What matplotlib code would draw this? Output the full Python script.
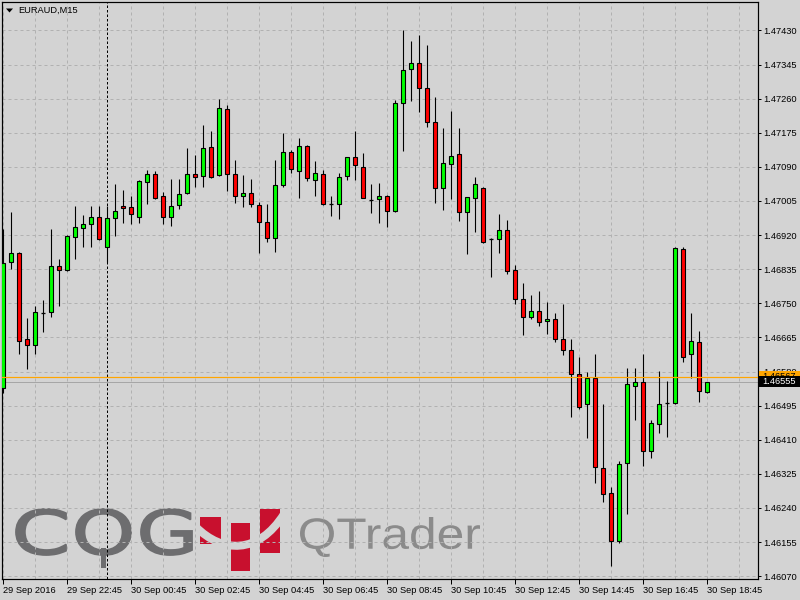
import numpy as np
import matplotlib
matplotlib.use('Agg')
import matplotlib.pyplot as plt
from matplotlib.patches import Rectangle, PathPatch, Polygon
from matplotlib.path import Path
from matplotlib.textpath import TextPath
from matplotlib.font_manager import FontProperties
from matplotlib.transforms import Affine2D, blended_transform_factory

plt.rcParams['font.family'] = ['Liberation Sans', 'DejaVu Sans']

# EURAUD M15, 29 Sep 20:45 .. 30 Sep 18:45
opens = [1.46539, 1.46853, 1.46875, 1.46661, 1.46646, 1.46726, 1.46728, 1.46843, 1.46833, 1.46915,
         1.46938, 1.46948, 1.46965, 1.46890, 1.46963, 1.46993, 1.46990, 1.46965, 1.47052, 1.47072,
         1.47018, 1.46965, 1.46995, 1.47025, 1.47072, 1.47067, 1.47140, 1.47070, 1.47234, 1.47072,
         1.47018, 1.47025, 1.46995, 1.46953, 1.46913, 1.47045, 1.47127, 1.47080, 1.47142, 1.47057,
         1.47072, 1.46998, 1.46998, 1.47067, 1.47115, 1.47090, 1.47007, 1.47010, 1.47018, 1.46980,
         1.47249, 1.47334, 1.47349, 1.47287, 1.47202, 1.47037, 1.47097, 1.47122, 1.46978, 1.47012,
         1.47037, 1.46910, 1.46910, 1.46933, 1.46833, 1.46761, 1.46716, 1.46731, 1.46706, 1.46711,
         1.46661, 1.46634, 1.46574, 1.46499, 1.46564, 1.46339, 1.46277, 1.46157, 1.46352, 1.46544,
         1.46554, 1.46382, 1.46449, 1.46501, 1.46501, 1.46885, 1.46624, 1.46653, 1.46529]
highs = [1.46935, 1.46978, 1.46877, 1.46713, 1.46743, 1.46758, 1.46935, 1.46860, 1.46920, 1.46993,
         1.46970, 1.46993, 1.46993, 1.46993, 1.47047, 1.47032, 1.47018, 1.47057, 1.47082, 1.47080,
         1.47027, 1.47060, 1.47060, 1.47137, 1.47120, 1.47194, 1.47180, 1.47259, 1.47244, 1.47107,
         1.47070, 1.47060, 1.47003, 1.46998, 1.47107, 1.47175, 1.47132, 1.47162, 1.47145, 1.47105,
         1.47082, 1.47018, 1.47075, 1.47115, 1.47180, 1.47125, 1.47047, 1.47050, 1.47020, 1.47257,
         1.47431, 1.47404, 1.47419, 1.47394, 1.47264, 1.47187, 1.47229, 1.47187, 1.47015, 1.47065,
         1.47039, 1.46912, 1.46973, 1.46958, 1.46845, 1.46801, 1.46771, 1.46781, 1.46753, 1.46726,
         1.46748, 1.46661, 1.46616, 1.46579, 1.46624, 1.46499, 1.46292, 1.46357, 1.46589, 1.46589,
         1.46624, 1.46459, 1.46581, 1.46556, 1.46890, 1.46890, 1.46726, 1.46681, 1.46554]
lows = [1.46526, 1.46835, 1.46624, 1.46586, 1.46624, 1.46678, 1.46716, 1.46743, 1.46830, 1.46860,
        1.46890, 1.46890, 1.46908, 1.46853, 1.46918, 1.46950, 1.46948, 1.46950, 1.46998, 1.47010,
        1.46948, 1.46943, 1.46985, 1.47022, 1.47040, 1.47040, 1.47062, 1.47068, 1.47030, 1.47000,
        1.46990, 1.46990, 1.46875, 1.46903, 1.46878, 1.47040, 1.47075, 1.47012, 1.47055, 1.47018,
        1.46995, 1.46968, 1.46960, 1.47057, 1.47057, 1.47012, 1.46975, 1.46950, 1.46940, 1.46978,
        1.47130, 1.47254, 1.47227, 1.47190, 1.47000, 1.46983, 1.47010, 1.46955, 1.46873, 1.46928,
        1.46900, 1.46816, 1.46875, 1.46823, 1.46748, 1.46671, 1.46711, 1.46693, 1.46673, 1.46653,
        1.46621, 1.46467, 1.46487, 1.46414, 1.46302, 1.46255, 1.46095, 1.46152, 1.46225, 1.46459,
        1.46344, 1.46364, 1.46427, 1.46417, 1.46499, 1.46604, 1.46564, 1.46504, 1.46526]
closes = [1.46850, 1.46875, 1.46656, 1.46646, 1.46728, 1.46726, 1.46843, 1.46833, 1.46918, 1.46940,
          1.46948, 1.46965, 1.46910, 1.46963, 1.46980, 1.46988, 1.46973, 1.47055, 1.47072, 1.47012,
          1.46965, 1.46993, 1.47022, 1.47072, 1.47065, 1.47137, 1.47065, 1.47237, 1.47072, 1.47018,
          1.47025, 1.46998, 1.46953, 1.46913, 1.47045, 1.47127, 1.47085, 1.47142, 1.47062, 1.47075,
          1.46998, 1.46998, 1.47065, 1.47115, 1.47095, 1.47012, 1.47007, 1.47018, 1.46980, 1.47249,
          1.47332, 1.47349, 1.47287, 1.47202, 1.47037, 1.47100, 1.47117, 1.46978, 1.47015, 1.47047,
          1.46903, 1.46910, 1.46933, 1.46830, 1.46761, 1.46716, 1.46731, 1.46703, 1.46711, 1.46661,
          1.46634, 1.46574, 1.46491, 1.46564, 1.46342, 1.46275, 1.46157, 1.46349, 1.46549, 1.46554,
          1.46382, 1.46452, 1.46499, 1.46501, 1.46888, 1.46616, 1.46656, 1.46531, 1.46555]

time_labels = ['29 Sep 2016', '29 Sep 22:45', '30 Sep 00:45', '30 Sep 02:45', '30 Sep 04:45',
               '30 Sep 06:45', '30 Sep 08:45', '30 Sep 10:45', '30 Sep 12:45', '30 Sep 14:45',
               '30 Sep 16:45', '30 Sep 18:45']
price_levels = [1.46070, 1.46155, 1.46240, 1.46325, 1.46410, 1.46495, 1.46580, 1.46665, 1.46750,
                1.46835, 1.46920, 1.47005, 1.47090, 1.47175, 1.47260, 1.47345, 1.47430]
bid_price = 1.46555
hline_price = 1.46567
day_break = 13      # bar index of 30 Sep 00:00
bars_per_label = 8
bars_per_grid = 4

BG = '#d3d3d3'
GRID = '#b1b1b1'
PX = 0.72  # one pixel in points at 100 dpi

fig = plt.figure(figsize=(8, 6), dpi=100, facecolor=BG)

# watermark layer (pixel coordinates, below the chart)
wm = fig.add_axes([0, 0, 1, 1], zorder=0)
wm.set_xlim(0, 800)
wm.set_ylim(600, 0)
wm.axis('off')
wm.patch.set_alpha(0)


def fit_text(axl, s, x0, x1, ytop, ybot, color, family, weight='normal', stroke=0):
    tp = TextPath((0, 0), s, size=100, prop=FontProperties(family=family, weight=weight))
    bb = tp.get_extents()
    tr = Affine2D().translate(-bb.x0, -bb.y1).scale((x1 - x0) / bb.width,
                                                      -(ybot - ytop) / bb.height).translate(x0, ytop)
    axl.add_patch(PathPatch(tr.transform_path(tp), fc=color,
                            ec=color if stroke else 'none', lw=stroke))


logo_grey = '#6d6d6f'
fit_text(wm, 'C', 16, 66, 509, 555, logo_grey, 'DejaVu Sans', stroke=1.3)
fit_text(wm, 'O', 76, 131, 509, 555, logo_grey, 'DejaVu Sans', stroke=1.3)
wm.add_patch(Rectangle((100.5, 548), 5.5, 20, fc=logo_grey, ec='none'))
fit_text(wm, 'G', 141, 192, 509, 555, logo_grey, 'DejaVu Sans', stroke=1.3)
fit_text(wm, 'QTrader', 300, 480, 517, 557, '#8b8b8b', 'Liberation Sans')

red = '#c8102e'
wm.add_patch(Rectangle((200, 517), 21, 27, fc=red, ec='none'))
wm.add_patch(Rectangle((231, 523), 19, 48, fc=red, ec='none'))
wm.add_patch(Rectangle((260, 509), 19.5, 43.5, fc=red, ec='none'))
arc = Path([(196, 527), (222, 553), (258, 555), (284, 514)],
           [Path.MOVETO, Path.CURVE4, Path.CURVE4, Path.CURVE4])
wm.add_patch(PathPatch(arc, fc='none', ec=BG, lw=8 * PX, capstyle='butt'))

# main chart
L, R, T, B = 2, 758, 2, 579
ax = fig.add_axes([L / 800, (600 - B) / 600, (R - L) / 800, (B - T) / 600], zorder=1)
ax.set_facecolor('none')

o = np.array(opens)
h = np.array(highs)
l = np.array(lows)
c = np.array(closes)
x = np.arange(len(o))

ax.set_xlim((L - 3) / 8, (R - 3) / 8)
ax.set_ylim(1.460628, 1.475010)

# grid
for gx in range(0, 96, bars_per_grid):
    ax.axvline(gx, color=GRID, lw=PX, ls=(0, (3, 3)), zorder=0.5)
for p in price_levels:
    ax.axhline(p, color=GRID, lw=PX, ls=(0, (3, 3)), zorder=0.5)
ax.axvline(day_break, color='black', lw=PX, ls=(0, (2.5, 2)), zorder=1)
ax.axhline(bid_price, color='#a6a6a6', lw=PX, zorder=1)

# candles
up = c > o
dn = c < o
flat = c == o
ax.vlines(x, l, h, color='black', lw=PX * 1.1, zorder=3)
ax.bar(x[up], (c - o)[up], bottom=o[up], width=0.5, color='#00ff00',
       edgecolor='black', linewidth=PX * 1.1, zorder=4)
ax.bar(x[dn], (o - c)[dn], bottom=c[dn], width=0.5, color='#ff0000',
       edgecolor='black', linewidth=PX * 1.1, zorder=4)
ax.hlines(o[flat], x[flat] - 0.3, x[flat] + 0.3, color='black', lw=PX * 1.3, zorder=4)

ax.axhline(hline_price, color='#ffa500', lw=PX * 1.2, zorder=5)

# axes styling
for sp in ax.spines.values():
    sp.set_color('black')
    sp.set_linewidth(PX * 1.2)

ax.set_xticks(list(range(0, len(o), bars_per_label)))
ax.set_xticklabels(time_labels)
for lbl in ax.get_xticklabels():
    lbl.set_horizontalalignment('left')
ax.yaxis.tick_right()
ax.set_yticks(price_levels)
ax.set_yticklabels(['%.5f' % p for p in price_levels])
ax.tick_params(axis='x', direction='out', length=3.6, width=PX, pad=1.5,
               labelsize=6.7, colors='black')
ax.tick_params(axis='y', direction='out', length=2.2, width=PX, pad=1.5,
               labelsize=6.7, colors='black')

# price labels on the right scale
tr = blended_transform_factory(fig.transFigure, ax.transData)
pxp = (1.475010 - 1.460628) / (B - T)
for price, fc, tc in [(hline_price, '#ffa500', 'black'), (bid_price, 'black', 'white')]:
    ax.add_patch(Rectangle((759 / 800, price - 5.5 * pxp), 41 / 800, 11 * pxp,
                           transform=tr, fc=fc, ec='none', clip_on=False, zorder=10))
    ax.text(762 / 800, price, '%.5f' % price, transform=tr, color=tc, fontsize=6.7,
            va='center', ha='left', clip_on=False, zorder=11)

# symbol header
fig.add_artist(Polygon([(6 / 800, 1 - 8.5 / 600), (13 / 800, 1 - 8.5 / 600),
                        (9.5 / 800, 1 - 12.5 / 600)], closed=True, transform=fig.transFigure,
                       fc='black', ec='none'))
fig.text(18 / 800, 1 - 10.5 / 600, 'EURAUD,M15', fontsize=6.7, color='black', va='center', ha='left')

fig.savefig('out.png', dpi=100, facecolor=BG)
